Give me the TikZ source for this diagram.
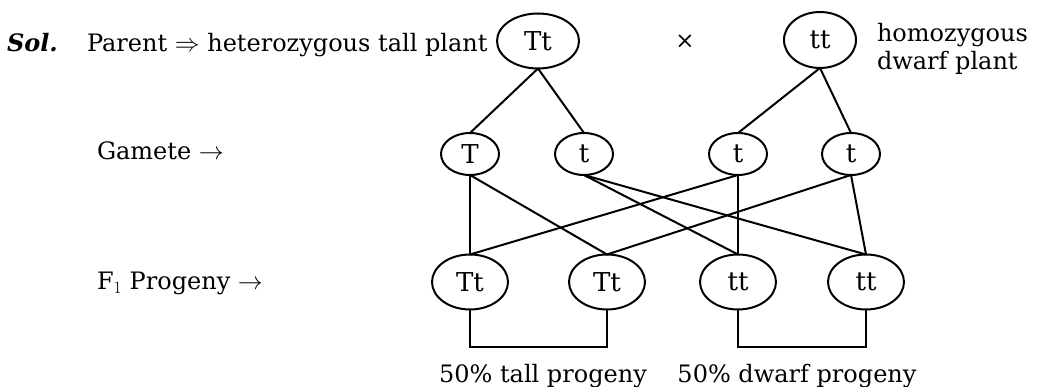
\documentclass[tikz,border=0pt]{standalone}
\usepackage{fontspec}
\setmainfont{DejaVu Serif}
\usetikzlibrary{shapes.geometric}
\begin{document}
\begin{tikzpicture}[x=1pt,y=-1pt,
  every node/.style={inner sep=0pt, outer sep=0pt, font=\fontsize{24}{28}\selectfont},
  lbl/.style={anchor=base west},
  gene/.style={draw, ellipse, line width=2pt, font=\fontsize{26}{28}\selectfont},
  pe/.style={gene, minimum width=82pt, minimum height=55pt},
  pe2/.style={gene, minimum width=72pt, minimum height=56pt},
  ge/.style={gene, minimum width=58pt, minimum height=42pt},
  fe/.style={gene, minimum width=76pt, minimum height=55pt},
  link/.style={line width=2pt}]
\useasboundingbox (0,0) rectangle (1037,387);
% labels
\node[lbl] (sol) at (7,52) {\bfseries\itshape Sol.};
\node[lbl] (par) at (87,52) {Parent $\Rightarrow$ heterozygous tall plant};
\node[font=\fontsize{23}{26}\selectfont] (cross) at (685,42) {\char"00D7};
\node[lbl] (hz1) at (877,42) {homozygous};
\node[lbl] (hz2) at (877,70) {dwarf plant};
\node[lbl] (gam) at (97,160) {Gamete $\rightarrow$};
\node[lbl] (f1l) at (97,290) {F$_1$ Progeny $\rightarrow$};
% parents
\node[pe] (P1) at (538,41) {Tt};
\node[pe2] (P2) at (820,40) {tt};
% gametes
\node[ge] (G1) at (470,154) {T};
\node[ge] (G2) at (584,154) {t};
\node[ge] (G3) at (738,154) {t};
\node[ge] (G4) at (851,154) {t};
% F1
\node[fe] (F1) at (470,282) {Tt};
\node[fe] (F2) at (607,282) {Tt};
\node[fe] (F3) at (738,282) {tt};
\node[fe] (F4) at (866,282) {tt};
% connectors
\draw[link] (P1.south) -- (G1.north);
\draw[link] (P1.south) -- (G2.north);
\draw[link] (P2.south) -- (G3.north);
\draw[link] (P2.south) -- (G4.north);
\draw[link] (G1.south) -- (F1.north);
\draw[link] (G1.south) -- (F2.north);
\draw[link] (G2.south) -- (F3.north);
\draw[link] (G2.south) -- (F4.north);
\draw[link] (G3.south) -- (F1.north);
\draw[link] (G3.south) -- (F3.north);
\draw[link] (G4.south) -- (F2.north);
\draw[link] (G4.south) -- (F4.north);
% brackets
\coordinate (bl) at (0,347);
\draw[link] (F1.south) -- (F1.south |- bl) -| (F2.south);
\draw[link] (F3.south) -- (F3.south |- bl) -| (F4.south);
\node[anchor=base] (tall) at (543,383) {50\% tall progeny};
\node[anchor=base] (dwarf) at (797,383) {50\% dwarf progeny};
\end{tikzpicture}
\end{document}
